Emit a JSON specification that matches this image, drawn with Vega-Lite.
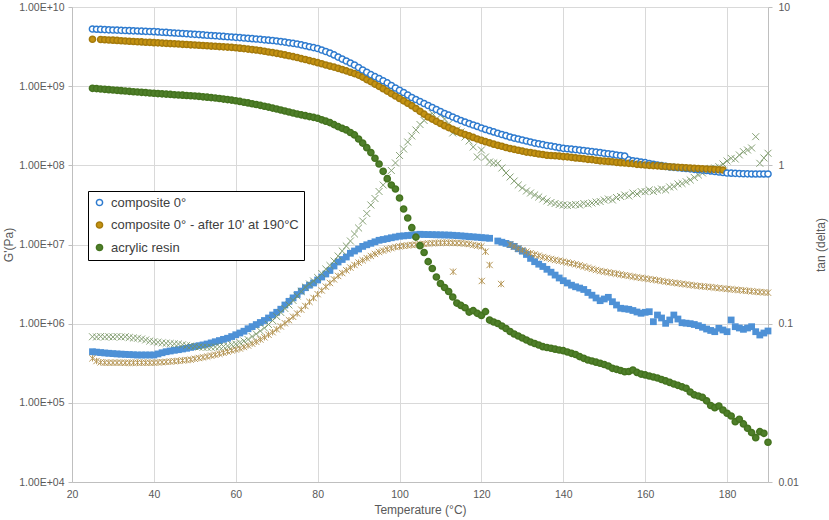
{
  "$schema": "https://vega.github.io/schema/vega-lite/v6.json",
  "width": 696,
  "height": 475,
  "autosize": {"type": "none"},
  "padding": {"left": 72, "top": 7, "right": 61, "bottom": 38},
  "config": {
    "font": "Liberation Sans",
    "view": {"stroke": null},
    "axis": {
      "labelColor": "#595959",
      "titleColor": "#595959",
      "labelFontSize": 10.5,
      "titleFontSize": 12,
      "titleFontWeight": "normal",
      "domainColor": "#bfbfbf",
      "tickColor": "#bfbfbf",
      "gridColor": "#d9d9d9"
    }
  },
  "data": {
    "values": [
      {"T":25,"cb":5.27e9,"ca":3.91e9,"ar":9.40e8,"tb":0.0665,"ta":0.0604,"tr":0.0827},
      {"T":26,"cb":5.24e9,"ar":9.31e8,"tb":0.0661,"ta":0.0581,"tr":0.0824},
      {"T":27,"cb":5.21e9,"ca":3.89e9,"ar":9.21e8,"tb":0.0657,"ta":0.0570,"tr":0.0830},
      {"T":28,"cb":5.18e9,"ca":3.86e9,"ar":9.12e8,"tb":0.0653,"ta":0.0567,"tr":0.0824},
      {"T":29,"cb":5.15e9,"ca":3.83e9,"ar":9.03e8,"tb":0.0650,"ta":0.0567,"tr":0.0827},
      {"T":30,"cb":5.12e9,"ca":3.81e9,"ar":8.95e8,"tb":0.0647,"ta":0.0567,"tr":0.0824},
      {"T":31,"cb":5.10e9,"ca":3.78e9,"ar":8.86e8,"tb":0.0644,"ta":0.0567,"tr":0.0830},
      {"T":32,"cb":5.07e9,"ca":3.75e9,"ar":8.77e8,"tb":0.0642,"ta":0.0567,"tr":0.0824},
      {"T":33,"cb":5.05e9,"ca":3.72e9,"ar":8.69e8,"tb":0.0640,"ta":0.0566,"tr":0.0827},
      {"T":34,"cb":5.02e9,"ca":3.69e9,"ar":8.60e8,"tb":0.0638,"ta":0.0566,"tr":0.0818},
      {"T":35,"cb":5.00e9,"ca":3.67e9,"ar":8.51e8,"tb":0.0636,"ta":0.0566,"tr":0.0812},
      {"T":36,"cb":4.98e9,"ca":3.64e9,"ar":8.44e8,"tb":0.0634,"ta":0.0567,"tr":0.0809},
      {"T":37,"cb":4.95e9,"ca":3.62e9,"ar":8.36e8,"tb":0.0634,"ta":0.0567,"tr":0.0800},
      {"T":38,"cb":4.92e9,"ca":3.59e9,"ar":8.28e8,"tb":0.0634,"ta":0.0567,"tr":0.0789},
      {"T":39,"cb":4.90e9,"ca":3.57e9,"ar":8.20e8,"tb":0.0634,"ta":0.0567,"tr":0.0777},
      {"T":40,"cb":4.88e9,"ca":3.54e9,"ar":8.13e8,"tb":0.0634,"ta":0.0567,"tr":0.0769},
      {"T":41,"cb":4.84e9,"ca":3.52e9,"ar":8.06e8,"tb":0.0644,"ta":0.0569,"tr":0.0763},
      {"T":42,"cb":4.80e9,"ca":3.50e9,"ar":8.00e8,"tb":0.0655,"ta":0.0571,"tr":0.0757},
      {"T":43,"cb":4.77e9,"ca":3.47e9,"ar":7.93e8,"tb":0.0665,"ta":0.0574,"tr":0.0752},
      {"T":44,"cb":4.73e9,"ca":3.45e9,"ar":7.87e8,"tb":0.0672,"ta":0.0576,"tr":0.0750},
      {"T":45,"cb":4.70e9,"ca":3.43e9,"ar":7.80e8,"tb":0.0679,"ta":0.0579,"tr":0.0746},
      {"T":46,"cb":4.66e9,"ca":3.41e9,"ar":7.74e8,"tb":0.0685,"ta":0.0582,"tr":0.0744},
      {"T":47,"cb":4.63e9,"ca":3.38e9,"ar":7.69e8,"tb":0.0692,"ta":0.0586,"tr":0.0736},
      {"T":48,"cb":4.59e9,"ca":3.36e9,"ar":7.63e8,"tb":0.0699,"ta":0.0589,"tr":0.0728},
      {"T":49,"cb":4.55e9,"ca":3.33e9,"ar":7.57e8,"tb":0.0708,"ta":0.0593,"tr":0.0723},
      {"T":50,"cb":4.52e9,"ca":3.31e9,"ar":7.51e8,"tb":0.0717,"ta":0.0600,"tr":0.0718},
      {"T":51,"cb":4.48e9,"ca":3.29e9,"ar":7.43e8,"tb":0.0726,"ta":0.0607,"tr":0.0712},
      {"T":52,"cb":4.44e9,"ca":3.26e9,"ar":7.34e8,"tb":0.0734,"ta":0.0613,"tr":0.0709},
      {"T":53,"cb":4.40e9,"ca":3.24e9,"ar":7.26e8,"tb":0.0744,"ta":0.0620,"tr":0.0709},
      {"T":54,"cb":4.36e9,"ca":3.21e9,"ar":7.17e8,"tb":0.0756,"ta":0.0628,"tr":0.0709},
      {"T":55,"cb":4.33e9,"ca":3.19e9,"ar":7.09e8,"tb":0.0769,"ta":0.0636,"tr":0.0712},
      {"T":56,"cb":4.29e9,"ca":3.16e9,"ar":6.98e8,"tb":0.0782,"ta":0.0645,"tr":0.0715},
      {"T":57,"cb":4.25e9,"ca":3.14e9,"ar":6.87e8,"tb":0.0796,"ta":0.0655,"tr":0.0718},
      {"T":58,"cb":4.21e9,"ca":3.11e9,"ar":6.76e8,"tb":0.0809,"ta":0.0666,"tr":0.0723},
      {"T":59,"cb":4.18e9,"ca":3.09e9,"ar":6.66e8,"tb":0.0829,"ta":0.0677,"tr":0.0737},
      {"T":60,"cb":4.14e9,"ca":3.06e9,"ar":6.55e8,"tb":0.0851,"ta":0.0687,"tr":0.0744},
      {"T":61,"cb":4.10e9,"ca":3.02e9,"ar":6.41e8,"tb":0.0873,"ta":0.0697,"tr":0.0760},
      {"T":62,"cb":4.06e9,"ca":2.98e9,"ar":6.27e8,"tb":0.0896,"ta":0.0712,"tr":0.0777},
      {"T":63,"cb":4.02e9,"ca":2.94e9,"ar":6.14e8,"tb":0.0929,"ta":0.0728,"tr":0.0794},
      {"T":64,"cb":3.98e9,"ca":2.90e9,"ar":6.00e8,"tb":0.0958,"ta":0.0748,"tr":0.0830},
      {"T":65,"cb":3.94e9,"ca":2.86e9,"ar":5.87e8,"tb":0.0987,"ta":0.0768,"tr":0.0861},
      {"T":66,"cb":3.90e9,"ca":2.81e9,"ar":5.72e8,"tb":0.1017,"ta":0.0794,"tr":0.0899},
      {"T":67,"cb":3.85e9,"ca":2.76e9,"ar":5.57e8,"tb":0.1047,"ta":0.0820,"tr":0.0939},
      {"T":68,"cb":3.81e9,"ca":2.70e9,"ar":5.43e8,"tb":0.1086,"ta":0.0851,"tr":0.0988},
      {"T":69,"cb":3.77e9,"ca":2.65e9,"ar":5.28e8,"tb":0.1134,"ta":0.0883,"tr":0.1047},
      {"T":70,"cb":3.72e9,"ca":2.60e9,"ar":5.15e8,"tb":0.1180,"ta":0.0921,"tr":0.1110},
      {"T":71,"cb":3.66e9,"ca":2.54e9,"ar":5.00e8,"tb":0.1234,"ta":0.0960,"tr":0.1177},
      {"T":72,"cb":3.60e9,"ca":2.48e9,"ar":4.86e8,"tb":0.1312,"ta":0.1006,"tr":0.1247},
      {"T":73,"cb":3.53e9,"ca":2.42e9,"ar":4.72e8,"tb":0.1384,"ta":0.1052,"tr":0.1312},
      {"T":74,"cb":3.47e9,"ca":2.36e9,"ar":4.58e8,"tb":0.1455,"ta":0.1105,"tr":0.1401},
      {"T":75,"cb":3.41e9,"ca":2.30e9,"ar":4.45e8,"tb":0.1528,"ta":0.1159,"tr":0.1495},
      {"T":76,"cb":3.32e9,"ca":2.23e9,"ar":4.34e8,"tb":0.1606,"ta":0.1226,"tr":0.1596},
      {"T":77,"cb":3.24e9,"ca":2.17e9,"ar":4.24e8,"tb":0.1687,"ta":0.1293,"tr":0.1704},
      {"T":78,"cb":3.15e9,"ca":2.10e9,"ar":4.13e8,"tb":0.1750,"ta":0.1373,"tr":0.1781},
      {"T":79,"cb":3.07e9,"ca":2.04e9,"ar":4.03e8,"tb":0.1807,"ta":0.1453,"tr":0.1860},
      {"T":80,"cb":2.99e9,"ca":1.98e9,"ar":3.93e8,"tb":0.1887,"ta":0.1536,"tr":0.1957},
      {"T":81,"cb":2.86e9,"ca":1.92e9,"ar":3.76e8,"tb":0.1971,"ta":0.1620,"tr":0.2074},
      {"T":82,"cb":2.74e9,"ca":1.85e9,"ar":3.61e8,"tb":0.2059,"ta":0.1713,"tr":0.2214},
      {"T":83,"cb":2.62e9,"ca":1.79e9,"ar":3.46e8,"tb":0.2167,"ta":0.1807,"tr":0.2330},
      {"T":84,"cb":2.48e9,"ca":1.74e9,"ar":3.27e8,"tb":0.2313,"ta":0.1904,"tr":0.2488},
      {"T":85,"cb":2.33e9,"ca":1.68e9,"ar":3.08e8,"tb":0.2452,"ta":0.2001,"tr":0.2676},
      {"T":86,"cb":2.20e9,"ca":1.62e9,"ar":2.93e8,"tb":0.2543,"ta":0.2087,"tr":0.2877},
      {"T":87,"cb":2.08e9,"ca":1.56e9,"ar":2.80e8,"tb":0.2637,"ta":0.2174,"tr":0.3094},
      {"T":88,"cb":1.96e9,"ca":1.50e9,"ar":2.60e8,"tb":0.2783,"ta":0.2260,"tr":0.3327},
      {"T":89,"cb":1.85e9,"ca":1.44e9,"ar":2.42e8,"tb":0.2877,"ta":0.2347,"tr":0.3685},
      {"T":90,"cb":1.72e9,"ca":1.38e9,"ar":2.15e8,"tb":0.2962,"ta":0.2430,"tr":0.4020},
      {"T":91,"cb":1.60e9,"ca":1.30e9,"ar":1.91e8,"tb":0.3076,"ta":0.2513,"tr":0.4450},
      {"T":92,"cb":1.50e9,"ca":1.21e9,"ar":1.67e8,"tb":0.3149,"ta":0.2594,"tr":0.4964},
      {"T":93,"cb":1.40e9,"ca":1.14e9,"ar":1.45e8,"tb":0.3218,"ta":0.2676,"tr":0.5617},
      {"T":94,"cb":1.32e9,"ca":1.06e9,"ar":1.23e8,"tb":0.3289,"ta":0.2756,"tr":0.6174},
      {"T":95,"cb":1.25e9,"ca":9.96e8,"ar":1.04e8,"tb":0.3362,"ta":0.2836,"tr":0.6836},
      {"T":96,"cb":1.17e9,"ca":9.29e8,"ar":8.40e7,"tb":0.3401,"ta":0.2892,"tr":0.7511},
      {"T":97,"cb":1.10e9,"ca":8.65e8,"ar":6.78e7,"tb":0.3441,"ta":0.2949,"tr":0.8379},
      {"T":98,"cb":1.02e9,"ca":8.06e8,"ar":5.65e7,"tb":0.3487,"ta":0.3000,"tr":0.9277},
      {"T":99,"cb":9.48e8,"ca":7.51e8,"ar":5.03e7,"tb":0.3527,"ta":0.3050,"tr":1.035},
      {"T":100,"cb":8.88e8,"ca":7.00e8,"ar":3.87e7,"tb":0.3569,"ta":0.3076,"tr":1.154},
      {"T":101,"cb":8.32e8,"ca":6.53e8,"ar":2.81e7,"tb":0.3584,"ta":0.3103,"tr":1.268},
      {"T":102,"cb":7.74e8,"ca":6.08e8,"ar":2.16e7,"tb":0.3605,"ta":0.3121,"tr":1.404},
      {"T":103,"cb":7.19e8,"ca":5.67e8,"ar":1.63e7,"tb":0.3626,"ta":0.3140,"tr":1.532},
      {"T":104,"cb":6.78e8,"ca":5.22e8,"ar":1.24e7,"tb":0.3648,"ta":0.3158,"tr":1.672},
      {"T":105,"cb":6.40e8,"ca":4.81e8,"ar":9.66e6,"tb":0.3669,"ta":0.3176,"tr":1.811},
      {"T":106,"cb":6.04e8,"ca":4.43e8,"ar":7.93e6,"tb":0.3658,"ta":0.3192,"tr":1.920},
      {"T":107,"cb":5.70e8,"ca":4.08e8,"ar":6.07e6,"tb":0.3653,"ta":0.3209,"tr":2.035},
      {"T":108,"cb":5.38e8,"ca":3.83e8,"ar":4.98e6,"tb":0.3648,"ta":0.3220,"tr":2.126},
      {"T":109,"cb":5.07e8,"ca":3.59e8,"ar":3.89e6,"tb":0.3642,"ta":0.3232,"tr":2.182},
      {"T":110,"cb":4.79e8,"ca":3.38e8,"ar":3.22e6,"tb":0.3637,"ta":0.3239,"tr":2.080},
      {"T":111,"cb":4.52e8,"ca":3.17e8,"ar":2.86e6,"tb":0.3632,"ta":0.3246,"tr":1.962},
      {"T":112,"cb":4.30e8,"ca":3.00e8,"ar":2.55e6,"tb":0.3626,"ta":0.3244,"tr":1.824},
      {"T":113,"cb":4.08e8,"ca":2.85e8,"ar":2.17e6,"tb":0.3616,"ta":0.3242,"tr":1.601},
      {"T":113.1,"ta":0.2129},
      {"T":114,"cb":3.88e8,"ca":2.70e8,"ar":1.82e6,"tb":0.3600,"ta":0.3232,"tr":1.672},
      {"T":115,"cb":3.68e8,"ca":2.56e8,"ar":1.70e6,"tb":0.3584,"ta":0.3222,"tr":1.624},
      {"T":116,"cb":3.52e8,"ca":2.45e8,"ar":1.59e6,"tb":0.3569,"ta":0.3204,"tr":1.510},
      {"T":117,"cb":3.37e8,"ca":2.35e8,"ar":1.40e6,"tb":0.3548,"ta":0.3185,"tr":1.425},
      {"T":118,"cb":3.23e8,"ca":2.25e8,"ar":1.46e6,"tb":0.3532,"ta":0.3140,"tr":1.306},
      {"T":119,"cb":3.10e8,"ca":2.15e8,"ar":1.35e6,"tb":0.3517,"ta":0.3108,"tr":1.129},
      {"T":120,"cb":2.96e8,"ca":2.07e8,"ar":1.27e6,"tb":0.3496,"ta":0.3081,"tr":1.250},
      {"T":120.1,"ta":0.1860},
      {"T":121,"cb":2.84e8,"ca":1.99e8,"ar":1.42e6,"tb":0.3481,"ta":0.2849,"tr":1.129},
      {"T":122,"cb":2.74e8,"ca":1.92e8,"ar":1.11e6,"tb":0.3461,"ta":0.2347,"tr":1.050},
      {"T":123,"cb":2.64e8,"ca":1.85e8,"ar":1.05e6,"tr":1.035},
      {"T":124,"cb":2.54e8,"ca":1.79e8,"ar":1.005e6,"tb":0.3327,"tr":1.030},
      {"T":124.8,"ta":0.1781},
      {"T":125,"cb":2.45e8,"ca":1.74e8,"ar":9.35e5,"tb":0.3269,"tr":0.9621},
      {"T":126,"cb":2.37e8,"ca":1.68e8,"ar":8.69e5,"tb":0.3214,"tr":0.8946},
      {"T":127,"cb":2.28e8,"ca":1.63e8,"ar":7.97e5,"tb":0.3158,"ta":0.3162,"tr":0.8440},
      {"T":128,"cb":2.21e8,"ca":1.59e8,"ar":7.41e5,"tb":0.3076,"ta":0.3072,"tr":0.7962},
      {"T":129,"cb":2.15e8,"ca":1.55e8,"ar":6.99e5,"tb":0.2971,"ta":0.2984,"tr":0.7511},
      {"T":130,"cb":2.09e8,"ca":1.51e8,"ar":6.59e5,"tb":0.2869,"ta":0.2911,"tr":0.7193},
      {"T":131,"cb":2.03e8,"ca":1.47e8,"ar":6.22e5,"tb":0.2735,"ta":0.2849,"tr":0.6887},
      {"T":132,"cb":1.97e8,"ca":1.45e8,"ar":5.87e5,"tb":0.2584,"ta":0.2787,"tr":0.6688},
      {"T":133,"cb":1.91e8,"ca":1.42e8,"ar":5.62e5,"tb":0.2463,"ta":0.2735,"tr":0.6497},
      {"T":134,"cb":1.87e8,"ca":1.39e8,"ar":5.38e5,"tb":0.2375,"ta":0.2688,"tr":0.6310},
      {"T":135,"cb":1.83e8,"ca":1.37e8,"ar":5.12e5,"tb":0.2297,"ta":0.2637,"tr":0.6129},
      {"T":136,"cb":1.78e8,"ca":1.34e8,"ar":5.00e5,"tb":0.2205,"ta":0.2599,"tr":0.5954},
      {"T":137,"cb":1.75e8,"ca":1.33e8,"ar":4.89e5,"tb":0.2114,"ta":0.2562,"tr":0.5825},
      {"T":138,"cb":1.71e8,"ca":1.32e8,"ar":4.76e5,"tb":0.2027,"ta":0.2525,"tr":0.5741},
      {"T":139,"cb":1.67e8,"ca":1.31e8,"ar":4.65e5,"tb":0.1943,"ta":0.2496,"tr":0.5658},
      {"T":140,"cb":1.64e8,"ca":1.29e8,"ar":4.56e5,"tb":0.1868,"ta":0.2466,"tr":0.5617},
      {"T":141,"cb":1.62e8,"ca":1.28e8,"ar":4.39e5,"tb":0.1807,"ta":0.2434,"tr":0.5577},
      {"T":142,"cb":1.60e8,"ca":1.26e8,"ar":4.22e5,"tb":0.1750,"ta":0.2403,"tr":0.5617},
      {"T":143,"cb":1.58e8,"ca":1.24e8,"ar":4.08e5,"tb":0.1710,"ta":0.2371,"tr":0.5658},
      {"T":144,"cb":1.56e8,"ca":1.23e8,"ar":3.83e5,"tb":0.1678,"ta":0.2337,"tr":0.5617},
      {"T":145,"cb":1.54e8,"ca":1.21e8,"ar":3.65e5,"tb":0.1644,"ta":0.2297,"tr":0.5741},
      {"T":146,"cb":1.51e8,"ca":1.19e8,"ar":3.48e5,"tb":0.1574,"ta":0.2257,"tr":0.5699},
      {"T":147,"cb":1.49e8,"ca":1.18e8,"ar":3.38e5,"tb":0.1513,"ta":0.2218,"tr":0.5783},
      {"T":148,"cb":1.47e8,"ca":1.16e8,"ar":3.26e5,"tb":0.1453,"ta":0.2183,"tr":0.5867},
      {"T":149,"cb":1.45e8,"ca":1.14e8,"ar":3.16e5,"tb":0.1397,"ta":0.2151,"tr":0.5910},
      {"T":150,"cb":1.42e8,"ca":1.13e8,"ar":3.05e5,"tb":0.1432,"ta":0.2129,"tr":0.6040},
      {"T":151,"cb":1.40e8,"ca":1.12e8,"ar":2.92e5,"tb":0.1467,"ta":0.2108,"tr":0.6129},
      {"T":152,"cb":1.38e8,"ca":1.11e8,"ar":2.73e5,"tb":0.1376,"ta":0.2086,"tr":0.6040},
      {"T":153,"cb":1.35e8,"ca":1.09e8,"ar":2.65e5,"tb":0.1312,"ta":0.2065,"tr":0.6266},
      {"T":154,"cb":1.33e8,"ca":1.08e8,"ar":2.56e5,"tb":0.1251,"ta":0.2044,"tr":0.6358},
      {"T":155,"cb":1.31e8,"ca":1.07e8,"ar":2.47e5,"tb":0.1241,"ta":0.2024,"tr":0.6497},
      {"T":156,"cb":1.17e8,"ca":1.06e8,"ar":2.49e5,"tb":0.1232,"ta":0.2003,"tr":0.6404},
      {"T":157,"cb":1.14e8,"ca":1.05e8,"ar":2.60e5,"tb":0.1211,"ta":0.1980,"tr":0.6688},
      {"T":158,"cb":1.12e8,"ca":1.03e8,"ar":2.42e5,"tb":0.1185,"ta":0.1963,"tr":0.6592},
      {"T":159,"cb":1.10e8,"ca":1.02e8,"ar":2.31e5,"tb":0.1163,"ta":0.1946,"tr":0.6836},
      {"T":160,"cb":1.08e8,"ca":1.01e8,"ar":2.25e5,"tb":0.1180,"ta":0.1929,"tr":0.6816},
      {"T":161,"cb":1.055e8,"ca":1.00e8,"ar":2.18e5,"tb":0.1190,"ta":0.1912,"tr":0.6987},
      {"T":162,"cb":1.03e8,"ca":9.92e7,"ar":2.12e5,"tb":0.1029,"ta":0.1896,"tr":0.6836},
      {"T":163,"cb":1.01e8,"ca":9.84e7,"ar":2.06e5,"tb":0.1134,"ta":0.1879,"tr":0.6987},
      {"T":164,"cb":9.90e7,"ca":9.75e7,"ar":1.97e5,"tb":0.1086,"ta":0.1860,"tr":0.7089},
      {"T":165,"cb":9.71e7,"ca":9.67e7,"ar":1.89e5,"tb":0.1005,"ta":0.1841,"tr":0.6987},
      {"T":166,"cb":9.53e7,"ca":9.60e7,"ar":1.81e5,"tb":0.1055,"ta":0.1827,"tr":0.7298},
      {"T":167,"cb":9.43e7,"ca":9.52e7,"ar":1.73e5,"tb":0.1134,"ta":0.1812,"tr":0.7352},
      {"T":168,"cb":9.32e7,"ca":9.45e7,"ar":1.66e5,"tb":0.1070,"ta":0.1799,"tr":0.7624},
      {"T":169,"cb":9.22e7,"ca":9.38e7,"ar":1.59e5,"tb":0.1014,"ta":0.1783,"tr":0.7680},
      {"T":170,"cb":9.12e7,"ca":9.31e7,"ar":1.53e5,"tb":0.1007,"ta":0.1770,"tr":0.7884},
      {"T":171,"cb":9.02e7,"ca":9.25e7,"ar":1.37e5,"tb":0.1000,"ta":0.1755,"tr":0.8083},
      {"T":172,"cb":8.91e7,"ca":9.18e7,"ar":1.26e5,"tb":0.0988,"ta":0.1742,"tr":0.8379},
      {"T":173,"cb":8.81e7,"ca":9.12e7,"ar":1.22e5,"tb":0.0971,"ta":0.1730,"tr":0.8690},
      {"T":174,"cb":8.71e7,"ca":9.06e7,"ar":1.17e5,"tb":0.0949,"ta":0.1720,"tr":0.8946},
      {"T":175,"cb":8.61e7,"ca":8.99e7,"ar":1.06e5,"tb":0.0925,"ta":0.1710,"tr":0.9209},
      {"T":176,"cb":8.49e7,"ca":8.93e7,"ar":9.26e4,"tb":0.0906,"ta":0.1700,"tr":0.9550},
      {"T":177,"cb":8.36e7,"ca":8.86e7,"ar":8.68e4,"tb":0.0890,"ta":0.1690,"tr":0.9621},
      {"T":178,"cb":8.24e7,"ca":8.80e7,"ar":9.12e4,"tb":0.0935,"ta":0.1678,"tr":0.9804},
      {"T":179,"cb":8.12e7,"ca":8.73e7,"ar":8.12e4,"tb":0.0912,"ta":0.1668,"tr":1.020},
      {"T":180,"cb":8.00e7,"ar":7.38e4,"tb":0.0890,"ta":0.1658,"tr":1.065},
      {"T":181,"cb":7.96e7,"ar":6.82e4,"tb":0.1055,"ta":0.1649,"tr":1.107},
      {"T":182,"cb":7.91e7,"ar":5.78e4,"tb":0.0957,"ta":0.1639,"tr":1.096},
      {"T":183,"cb":7.87e7,"ar":6.20e4,"tb":0.0939,"ta":0.1629,"tr":1.163},
      {"T":184,"cb":7.83e7,"ar":5.41e4,"tb":0.0921,"ta":0.1620,"tr":1.220},
      {"T":185,"cb":7.80e7,"ar":4.77e4,"tb":0.0939,"ta":0.1611,"tr":1.250},
      {"T":186,"cb":7.78e7,"ar":4.20e4,"tb":0.0957,"ta":0.1601,"tr":1.287},
      {"T":187,"cb":7.78e7,"ar":3.63e4,"tb":0.0890,"ta":0.1592,"tr":1.517},
      {"T":188,"cb":7.78e7,"ar":4.32e4,"tb":0.0848,"ta":0.1583,"tr":1.030},
      {"T":189,"cb":7.78e7,"ar":4.12e4,"tb":0.0873,"ta":0.1576,"tr":1.113},
      {"T":190,"cb":7.78e7,"ar":3.18e4,"tb":0.0899,"ta":0.1569,"tr":1.192}
    ]
  },
  "layer": [
    {
      "transform": [
        {"fold": ["tb", "ta", "tr"], "as": ["k", "tan"]},
        {"filter": "isValid(datum.tan)"}
      ],
      "encoding": {
        "x": {
          "field": "T",
          "type": "quantitative",
          "scale": {"domain": [20, 190], "nice": false, "zero": false},
          "axis": {
            "values": [20, 40, 60, 80, 100, 120, 140, 160, 180],
            "title": "Temperature (°C)",
            "grid": true,
            "ticks": false,
            "labelPadding": 7,
            "labelFlush": false,
            "titlePadding": 5
          }
        },
        "y": {
          "field": "tan",
          "type": "quantitative",
          "scale": {"type": "log", "domain": [0.01, 10], "nice": false},
          "axis": {
            "orient": "right",
            "values": [0.01, 0.1, 1, 10],
            "format": "~g",
            "grid": false,
            "tickSize": 4,
            "labelPadding": 6,
            "title": "tan (delta)",
            "titleAngle": -90,
            "titleBaseline": "middle",
            "titleX": 52
          }
        }
      },
      "layer": [
        {
          "transform": [{"filter": "datum.k == 'tb'"}],
          "mark": {"type": "point", "shape": "square", "filled": true, "color": "#4e91d6", "size": 46, "opacity": 1}
        },
        {
          "transform": [{"filter": "datum.k == 'ta'"}],
          "mark": {"type": "point", "shape": "M-1,-1L1,1M-1,1L1,-1M0,-1L0,1", "filled": false, "color": "#b08e48", "size": 40, "strokeWidth": 1, "opacity": 0.9}
        },
        {
          "transform": [{"filter": "datum.k == 'tr'"}],
          "mark": {"type": "point", "shape": "M-1,-1L1,1M-1,1L1,-1", "filled": false, "color": "#73925f", "size": 48, "strokeWidth": 1, "opacity": 0.85}
        }
      ]
    },
    {
      "transform": [
        {"fold": ["cb", "ca", "ar"], "as": ["s", "G"]},
        {"filter": "isValid(datum.G)"}
      ],
      "mark": {"type": "point", "shape": "circle", "filled": true, "size": 38, "strokeWidth": 1.5, "opacity": 1},
      "encoding": {
        "x": {"field": "T", "type": "quantitative"},
        "y": {
          "field": "G",
          "type": "quantitative",
          "scale": {"type": "log", "domain": [10000, 10000000000], "nice": false},
          "axis": {
            "orient": "left",
            "values": [10000, 100000, 1000000, 10000000, 100000000, 1000000000, 10000000000],
            "labelExpr": "'1.00E+' + (datum.value < 1e10 ? '0' : '') + format(log(datum.value) / LN10, '.0f')",
            "grid": true,
            "tickSize": 4,
            "labelPadding": 4,
            "title": "G'(Pa)",
            "titleBaseline": "middle",
            "titleX": -64
          }
        },
        "fill": {
          "field": "s",
          "type": "nominal",
          "scale": {"domain": ["cb", "ca", "ar"], "range": ["#ffffff", "#c49212", "#4f7f2a"]},
          "legend": {
            "orient": "none",
            "legendX": 16,
            "legendY": 184,
            "title": null,
            "strokeColor": "#000000",
            "fillColor": "#ffffff",
            "padding": 5,
            "rowPadding": 8.5,
            "labelFontSize": 13,
            "labelColor": "#404040",
            "labelOffset": 5,
            "labelLimit": 400,
            "symbolSize": 38,
            "symbolStrokeWidth": 1.5,
            "symbolType": "circle",
            "labelExpr": "datum.label == 'cb' ? 'composite 0°' : datum.label == 'ca' ? \"composite 0° - after 10' at 190°C\" : 'acrylic resin'"
          }
        },
        "stroke": {
          "field": "s",
          "type": "nominal",
          "scale": {"domain": ["cb", "ca", "ar"], "range": ["#2e7bcf", "#a47a0c", "#44731f"]},
          "legend": {
            "orient": "none",
            "legendX": 16,
            "legendY": 184,
            "title": null,
            "strokeColor": "#000000",
            "fillColor": "#ffffff",
            "padding": 5,
            "rowPadding": 8.5,
            "labelFontSize": 13,
            "labelColor": "#404040",
            "labelOffset": 5,
            "labelLimit": 400,
            "symbolSize": 38,
            "symbolStrokeWidth": 1.5,
            "symbolType": "circle",
            "labelExpr": "datum.label == 'cb' ? 'composite 0°' : datum.label == 'ca' ? \"composite 0° - after 10' at 190°C\" : 'acrylic resin'"
          }
        }
      }
    }
  ],
  "resolve": {"scale": {"y": "independent"}}
}
